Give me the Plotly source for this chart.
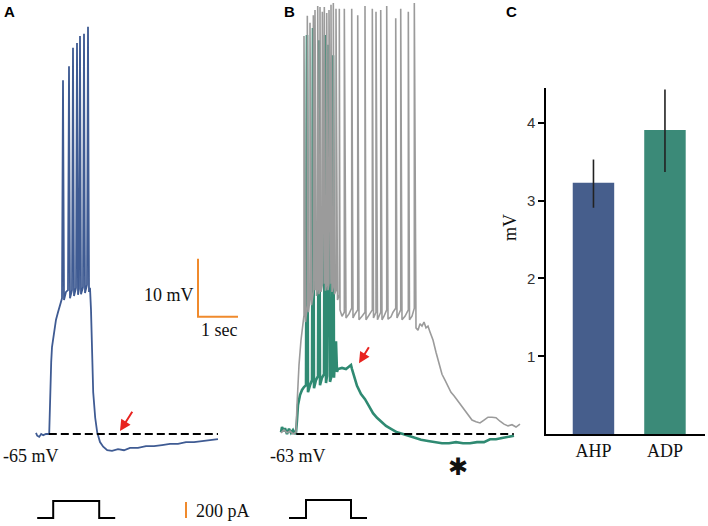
import numpy as np
import plotly.graph_objects as go

# ---------------- Panel A (time in s, membrane potential in mV) ----------------
A_t_sub = [0.00,0.03,0.08,0.13,0.18,0.25,0.33,0.35,0.38,0.40,0.45,0.50,0.55,0.60,0.65,
           0.70,0.75,0.80,0.85,0.90,0.95,1.00,1.05,1.075,1.125,1.175,1.225,1.275,
           1.325,1.35,1.375,1.40,1.43,1.48,1.53,1.60,1.68,1.78,1.90,2.05,2.20,2.35,2.55,
           2.75,2.95,3.15,3.35,3.55,3.75,3.95,4.15,4.35,4.55]
A_v_sub = [-64.8,-65.3,-65.5,-65.0,-65.2,-65.0,-65.0,-57.4,-52.6,-50.0,-47.4,-45.3,-44.0,-42.8,-41.6,
           -41.9,-40.5,-40.2,-41.6,-40.2,-41.2,-39.8,-41.0,-40.0,-40.9,-39.7,-40.7,-39.3,
           -40.5,-39.8,-43.6,-51.4,-57.8,-62.2,-64.7,-66.4,-67.2,-67.8,-67.9,-67.6,-67.8,-67.4,-67.4,
           -67.1,-67.1,-66.9,-66.7,-66.7,-66.4,-66.4,-66.2,-66.0,-65.9]
A_spk_t = [0.675,0.825,0.925,1.025,1.10,1.20,1.30]
A_spk_v = [-4.0,-1.6,1.6,2.4,3.6,4.0,5.2]
A_rest = -65.0

# ---------------- Panel B ----------------
G_t_sub = [0.00,0.025,0.075,0.10,0.15,0.20,0.25,0.30,0.35,0.375,0.40,0.425,0.475,0.525,0.575,0.625,
           0.675,0.725,0.775,0.825,0.875,0.925,0.975,1.025,1.075,1.125,1.15,1.225,1.275,1.325,
           1.40,1.425,1.525,1.625,1.70,1.75,1.775,1.825,1.90,2.00,
           2.10,2.20,2.30,2.40,2.50,2.625,2.75,2.90,3.05,3.20,
           3.35,3.50,3.675,3.85,4.025,4.20,4.375,4.55,4.725,4.90,
           5.075,5.225,5.375,5.525,5.675,5.825]
G_v_sub = [-62.7,-61.8,-62.5,-62.0,-63.0,-62.1,-62.8,-62.3,-63.0,-62.7,-60.6,-58.0,-56.3,-55.4,-54.9,-54.6,
           -55.8,-54.6,-53.7,-55.1,-53.7,-53.0,-54.6,-53.3,-52.7,-54.2,-53.0,-54.0,-52.7,-53.3,
           -52.3,-51.8,-51.6,-51.8,-51.4,-51.1,-51.8,-53.0,-54.7,-56.1,
           -57.0,-58.2,-59.4,-60.2,-60.9,-61.6,-62.1,-62.7,-63.0,-63.3,
           -63.7,-64.0,-64.2,-64.4,-64.6,-64.6,-64.4,-64.6,-64.6,-64.4,
           -64.4,-63.9,-63.9,-63.7,-63.5,-63.3]
G_spk_t = [0.65,0.80,0.95,1.10,1.1875,1.30,1.375]
G_spk_v = [5.8,7.0,4.9,5.8,4.1,2.3,-47.0]

Gr_t_sub = [0.00,0.075,0.15,0.225,0.30,0.375,0.40,0.45,0.50,0.55,0.575,0.6125,0.658,0.6875,0.725,0.7625,
            0.808,0.85,0.8875,0.918,0.95,0.975,1.00,1.033,1.083,1.1125,1.143,1.175,1.20,1.25,1.275,
            1.308,1.3375,1.375,1.4125,1.458,1.475,1.525,1.583,1.625,1.70,1.768,1.80,1.85,1.918,1.95,
            2.025,2.10,2.125,2.20,2.283,2.3125,2.375,2.4125,2.493,2.525,2.575,2.643,2.675,2.75,2.80,
            2.868,2.90,2.993,3.025,3.10,3.183,3.2125,3.275,3.333,3.375,3.425,3.475,3.525,3.575,3.625,
            3.675,3.725,3.80,3.875,3.95,4.025,4.10,4.175,4.25,4.325,4.40,4.475,4.55,4.625,4.70,4.775,
            4.875,4.975,5.075,5.175,5.275,5.375,5.475,5.575,5.675,5.775,5.875,5.975]
Gr_v_sub = [-62.8,-62.3,-62.8,-62.5,-63.0,-62.7,-58.0,-51.1,-46.8,-43.7,-42.5,-43.7,-40.8,-42.0,-39.6,-40.8,
            -38.5,-38.2,-39.2,-37.7,-38.9,-37.5,-38.5,-37.3,-37.1,-38.3,-37.0,-38.2,-37.0,-37.1,-38.5,
            -37.3,-38.9,-38.2,-39.9,-39.0,-41.6,-42.7,-42.0,-43.0,-42.3,-41.3,-43.0,-42.3,-41.6,-43.3,
            -42.7,-42.0,-43.3,-42.5,-41.6,-43.0,-42.0,-43.3,-42.0,-43.3,-42.7,-41.6,-43.2,-42.8,-42.0,
            -41.3,-43.0,-41.6,-43.3,-42.7,-41.6,-43.3,-42.7,-41.3,-44.7,-45.1,-44.0,-44.4,-43.7,-44.7,
            -44.4,-45.4,-46.8,-48.9,-50.9,-52.7,-53.7,-54.7,-55.8,-56.4,-57.1,-58.0,-58.5,-59.4,-59.9,-60.6,
            -60.9,-61.1,-60.6,-60.1,-60.1,-60.2,-60.8,-61.3,-61.6,-61.4,-61.8,-61.3]
Gr_spk_t = [0.575,0.658,0.725,0.808,0.85,0.918,0.975,1.033,1.083,1.143,1.20,1.25,1.308,1.375,1.458,
            1.583,1.768,1.918,2.10,2.283,2.375,2.493,2.643,2.868,2.993,3.183,3.333]
Gr_spk_v = [5.6,9.1,7.9,9.2,10.1,10.8,10.6,9.8,10.6,9.6,10.1,11.0,11.3,10.3,10.3,
            10.3,10.3,9.2,10.8,10.3,9.8,10.1,10.8,8.7,10.3,9.8,11.3]
B_rest = -63.0

# current step protocols (pA)
A_stim_t = [0.03,0.43,0.43,1.58,1.58,1.98]
A_stim_i = [0,0,212,212,0,0]
B_stim_t = [0.20,0.625,0.625,1.75,1.75,2.15]
B_stim_i = [0,0,225,225,0,0]

# ---------------- Panel C ----------------
C_cats = ["AHP", "ADP"]
C_vals = [3.23, 3.91]
C_err_plus = [0.30, 0.52]
C_err_minus = [0.32, 0.54]
C_ticks = [1, 2, 3, 4]

for a, b in [(A_t_sub, A_v_sub), (A_spk_t, A_spk_v), (G_t_sub, G_v_sub), (G_spk_t, G_spk_v),
             (Gr_t_sub, Gr_v_sub), (Gr_spk_t, Gr_spk_v)]:
    assert len(a) == len(b), (len(a), len(b))


def merge(ts, vs, st, sv):
    t = np.concatenate([ts, st])
    v = np.concatenate([vs, sv])
    o = np.argsort(t, kind="stable")
    return t[o], v[o]


W, H = 708, 526
PX_S, PX_MV, PX_PA = 40.0, 5.8, 0.08
A_X0, B_X0, BASE_Y, STIM_Y = 36, 281, 434, 518

BLUE = "#3f5b93"
GREEN = "#2f8a72"
GREY = "#9b9b9b"
ORANGE = "#f08a2c"
RED = "#e8231f"
SERIF = "Liberation Serif"
SANS = "Liberation Sans"

fig = go.Figure()

# green trace (B)
t, v = merge(G_t_sub, G_v_sub, G_spk_t, G_spk_v)
fig.add_trace(go.Scatter(x=t, y=v, xaxis="x2", yaxis="y2", mode="lines",
                         line=dict(color=GREEN, width=2.6)))
# grey trace (B, control) drawn on top
t, v = merge(Gr_t_sub, Gr_v_sub, Gr_spk_t, Gr_spk_v)
fig.add_trace(go.Scatter(x=t, y=v, xaxis="x2", yaxis="y2", mode="lines",
                         line=dict(color=GREY, width=1.6)))
# blue trace (A)
t, v = merge(A_t_sub, A_v_sub, A_spk_t, A_spk_v)
fig.add_trace(go.Scatter(x=t, y=v, xaxis="x", yaxis="y", mode="lines",
                         line=dict(color=BLUE, width=1.8)))

# resting baselines (dashed)
fig.add_trace(go.Scatter(x=[0.32, 4.55], y=[A_rest, A_rest], xaxis="x", yaxis="y", mode="lines",
                         line=dict(color="black", width=2, dash="8px,4px")))
fig.add_trace(go.Scatter(x=[0.38, 5.82], y=[B_rest, B_rest], xaxis="x2", yaxis="y2", mode="lines",
                         line=dict(color="black", width=2, dash="8px,4px")))

# scale bar (10 mV, 1 s)
SB_T, SB_V = 4.05, -44.8
fig.add_trace(go.Scatter(x=[SB_T, SB_T, SB_T + 1.0], y=[SB_V + 10, SB_V, SB_V], xaxis="x", yaxis="y",
                         mode="lines", line=dict(color=ORANGE, width=2)))
# current scale bar 200 pA
fig.add_trace(go.Scatter(x=[3.75, 3.75], y=[0, 200], xaxis="x", yaxis="y3", mode="lines",
                         line=dict(color=ORANGE, width=2)))
# stimulus protocols
fig.add_trace(go.Scatter(x=A_stim_t, y=A_stim_i, xaxis="x", yaxis="y3", mode="lines",
                         line=dict(color="black", width=2)))
fig.add_trace(go.Scatter(x=B_stim_t, y=B_stim_i, xaxis="x2", yaxis="y3", mode="lines",
                         line=dict(color="black", width=2)))

# bar chart C
fig.add_trace(go.Bar(x=C_cats, y=C_vals, xaxis="x3", yaxis="y4", width=0.58,
                     marker=dict(color=["#465e8c", "#3b8a78"], line=dict(width=0)),
                     error_y=dict(type="data", array=C_err_plus, arrayminus=C_err_minus,
                                  color="#222222", thickness=1.6, width=0)))

hid = dict(visible=False, showgrid=False, zeroline=False, fixedrange=True)
fig.update_layout(
    width=W, height=H, margin=dict(l=0, r=0, t=0, b=0),
    paper_bgcolor="white", plot_bgcolor="rgba(0,0,0,0)", showlegend=False,
    xaxis=dict(domain=[0, 1], range=[-A_X0 / PX_S, (W - A_X0) / PX_S], anchor="y", **hid),
    yaxis=dict(domain=[0, 1], range=[A_rest - (H - BASE_Y) / PX_MV, A_rest + BASE_Y / PX_MV],
               anchor="x", **hid),
    xaxis2=dict(domain=[0, 1], range=[-B_X0 / PX_S, (W - B_X0) / PX_S], overlaying="x",
                anchor="y2", **hid),
    yaxis2=dict(domain=[0, 1], range=[B_rest - (H - BASE_Y) / PX_MV, B_rest + BASE_Y / PX_MV],
                overlaying="y", anchor="x2", **hid),
    yaxis3=dict(domain=[0, 1], range=[-(H - STIM_Y) / PX_PA, STIM_Y / PX_PA], overlaying="y",
                anchor="x", **hid),
    xaxis3=dict(domain=[546 / W, 705 / W], range=[-0.664, 1.56], anchor="y4",
                showline=True, linecolor="black", linewidth=1.5, ticks="", showgrid=False,
                tickfont=dict(family=SERIF, size=18, color="#111"), fixedrange=True),
    yaxis4=dict(domain=[(H - 434) / H, (H - 88) / H], range=[0, 4.45], anchor="x3",
                showline=True, linecolor="black", linewidth=1.5, ticks="outside", ticklen=6,
                tickwidth=1.5, tickcolor="black", tickvals=C_ticks, showgrid=False, zeroline=False,
                tickfont=dict(family=SANS, size=15, color="#333"), fixedrange=True),
)


def txt(s, px, py, size=18, family=SERIF, xanchor="left", color="#111", bold=False, angle=0):
    fig.add_annotation(text=f"<b>{s}</b>" if bold else s, x=px / W, y=1 - py / H,
                       xref="paper", yref="paper", showarrow=False, xanchor=xanchor,
                       yanchor="middle", textangle=angle,
                       font=dict(family=family, size=size, color=color))


txt("A", 2, 11, size=15, family=SANS, bold=True, color="black")
txt("B", 282, 11, size=15, family=SANS, bold=True, color="black")
txt("C", 504, 11, size=15, family=SANS, bold=True, color="black")
txt("-65 mV", 1, 456)
txt("-63 mV", 268, 456)
txt("10 mV", 196, 295, xanchor="right")
txt("1 sec", 199, 330)
txt("200 pA", 194, 511)
txt("mV", 510, 228, angle=-90, xanchor="center")
txt("\u2731", 458, 467, size=24, family="DejaVu Sans", xanchor="center", color="#111")

# red arrows
fig.add_annotation(x=2.1, y=-64.5, ax=2.43, ay=-60.9, xref="x", yref="y", axref="x", ayref="y",
                   showarrow=True, arrowhead=2, arrowsize=1.1, arrowwidth=2, arrowcolor=RED, text="")
fig.add_annotation(x=1.95, y=-50.8, ax=2.22, ay=-47.8, xref="x2", yref="y2", axref="x2", ayref="y2",
                   showarrow=True, arrowhead=2, arrowsize=1.1, arrowwidth=2, arrowcolor=RED, text="")

fig.write_html("out.html", config={"displayModeBar": False},
               post_script="document.body.style.margin='0';document.body.style.padding='0';")
